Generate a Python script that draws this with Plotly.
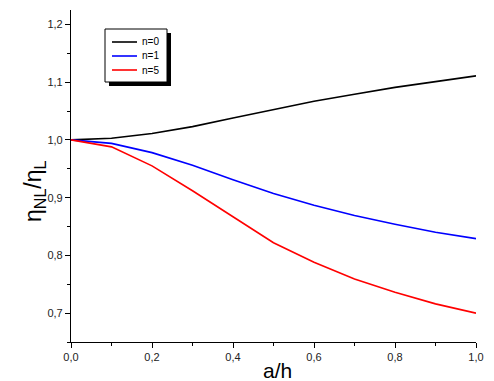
import plotly.graph_objects as go

x_vals = [0.0, 0.1, 0.2, 0.3, 0.4, 0.5, 0.6, 0.7, 0.8, 0.9, 1.0]
n0 = [1.000, 1.003, 1.011, 1.023, 1.038, 1.053, 1.067, 1.079, 1.091, 1.101, 1.111]
n1 = [1.000, 0.994, 0.978, 0.956, 0.931, 0.907, 0.887, 0.869, 0.854, 0.840, 0.829]
n5 = [1.000, 0.988, 0.955, 0.912, 0.867, 0.822, 0.788, 0.759, 0.736, 0.716, 0.700]
series_names = ["n=0", "n=1", "n=5"]
series_colors = ["#000000", "#0000ff", "#ff0000"]

L, R, T, B = 71, 18, 10, 39
W, H = 494, 381
PW, PH = W - L - R, H - T - B


def px(xp):
    return (xp - L) / PW


def py(yp):
    return (H - B - yp) / PH


FONT = "Arial, Liberation Sans, sans-serif"

fig = go.Figure()
for name, ys, col in zip(series_names, [n0, n1, n5], series_colors):
    fig.add_trace(go.Scatter(x=x_vals, y=ys, mode="lines", name=name,
                             line=dict(color=col, width=1.6), showlegend=False,
                             hoverinfo="skip"))

axis_common = dict(
    showgrid=False, zeroline=False, showline=True, linecolor="black", linewidth=1.2,
    ticks="outside", ticklen=5, tickwidth=1.2, tickcolor="black",
    tickfont=dict(family=FONT, size=11, color="#222"),
    mirror=False, automargin=False,
)

fig.update_layout(
    width=W, height=H,
    margin=dict(l=L, r=R, t=T, b=B),
    paper_bgcolor="white", plot_bgcolor="white",
    separators=",.",
    showlegend=False,
    xaxis=dict(range=[0, 1.0], tick0=0, dtick=0.2, tickformat=".1f",
               minor=dict(ticks="outside", ticklen=3, tickwidth=1.2, tickcolor="black", dtick=0.1),
               **axis_common),
    yaxis=dict(range=[0.65, 1.225], tick0=0.7, dtick=0.1, tickformat=".1f",
               minor=dict(ticks="outside", ticklen=3, tickwidth=1.2, tickcolor="black", dtick=0.05, tick0=0.65),
               **axis_common),
)

# axis titles
fig.add_annotation(text="a/h", xref="paper", yref="paper", x=px(277), y=py(370),
                   xanchor="center", yanchor="middle", showarrow=False,
                   font=dict(family=FONT, size=21, color="black"))
fig.add_annotation(text="η<sub>NL</sub>/η<sub>L</sub>", xref="paper", yref="paper",
                   x=px(34), y=py(191), xanchor="center", yanchor="middle", showarrow=False,
                   textangle=-90, font=dict(family=FONT, size=23, color="black"))

# legend (manual): shadow, box, line samples, labels
bx0, by0, bx1, by1 = 105, 29, 167, 82
fig.add_shape(type="rect", xref="paper", yref="paper",
              x0=px(bx0 + 4), x1=px(bx1 + 4), y0=py(by1 + 4), y1=py(by0 + 4),
              fillcolor="black", line=dict(width=0), layer="above")
fig.add_shape(type="rect", xref="paper", yref="paper",
              x0=px(bx0), x1=px(bx1), y0=py(by1), y1=py(by0),
              fillcolor="white", line=dict(color="black", width=1), layer="above")
for i, (name, col) in enumerate(zip(series_names, series_colors)):
    yy = 42 + 14 * i
    fig.add_shape(type="line", xref="paper", yref="paper",
                  x0=px(112), x1=px(137), y0=py(yy), y1=py(yy),
                  line=dict(color=col, width=1.6), layer="above")
    fig.add_annotation(text=name, xref="paper", yref="paper", x=px(140), y=py(yy),
                       xanchor="left", yanchor="middle", showarrow=False,
                       font=dict(family=FONT, size=10, color="black"))

fig.write_html("out.html", config={"displayModeBar": False},
               post_script="document.body.style.margin='0';document.body.style.overflow='hidden';")
